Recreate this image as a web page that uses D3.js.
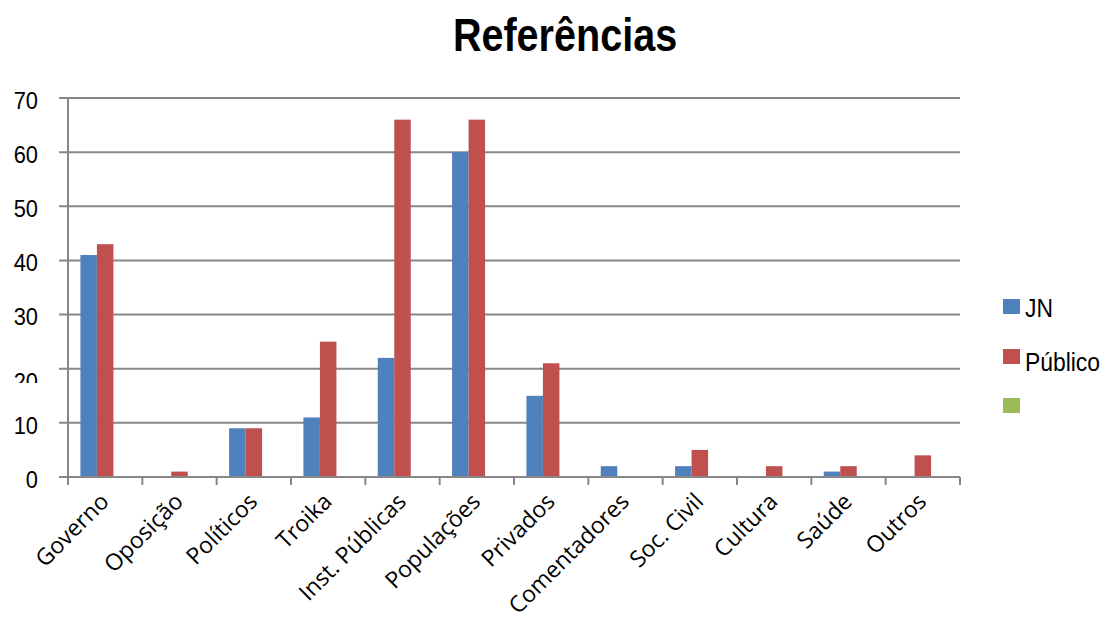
<!DOCTYPE html>
<html><head><meta charset="utf-8">
<script src="https://cdn.jsdelivr.net/npm/d3@7"></script>
<style>body{margin:0;background:#fff}svg{display:block}</style>
</head><body>
<svg id="c" width="1105" height="622"></svg>
<script>
const categories = ["Governo","Oposição","Políticos","Troika","Inst. Públicas","Populações","Privados","Comentadores","Soc. Civil","Cultura","Saúde","Outros"];
const seriesNames = ["JN","Público",""];
const jnValues = [41,0,9,11,22,60,15,2,2,0,1,0];
const publicoValues = [43,1,9,25,66,66,21,0,5,2,2,4];
const thirdValues = [0,0,0,0,0,0,0,0,0,0,0,0];
const yTicks = [0,10,20,30,40,50,60,70];
const colors = ["#4F81BD","#C0504D","#9BBB59"];
const title = "Referências";

(function(){
const series = [jnValues, publicoValues, thirdValues];
const svg = d3.select("#c");
const pL = 68, pR = 960, pT = 98, pB = 477;
const x0 = d3.scaleBand().domain(categories).range([pL, pR]).paddingInner(0.334).paddingOuter(0.167);
const x1 = d3.scaleBand().domain(d3.range(series.length)).range([0, x0.bandwidth()]);
const y = d3.scaleLinear().domain([0,70]).range([pB, pT]);
const grid = "#878787";

// gridlines
svg.append("g").selectAll("line").data(yTicks).join("line")
  .attr("x1", pL - 9).attr("x2", pR).attr("y1", d => y(d)).attr("y2", d => y(d))
  .attr("stroke", grid).attr("stroke-width", 2);
// left axis
svg.append("line").attr("x1", pL).attr("x2", pL).attr("y1", pT).attr("y2", pB + 8)
  .attr("stroke", grid).attr("stroke-width", 2);
// bottom ticks
const step = x0.step();
svg.append("g").selectAll("line").data(d3.range(categories.length + 1)).join("line")
  .attr("x1", i => pL + i * step).attr("x2", i => pL + i * step)
  .attr("y1", pB).attr("y2", pB + 8).attr("stroke", grid).attr("stroke-width", 2);

// bars
svg.append("g").selectAll("g").data(categories).join("g")
  .attr("transform", d => `translate(${x0(d)},0)`)
  .selectAll("rect").data((d, i) => series.map((s, k) => ({k, v: s[i]})).filter(e => e.v > 0)).join("rect")
  .attr("x", e => x1(e.k)).attr("width", x1.bandwidth())
  .attr("y", e => y(e.v)).attr("height", e => y(0) - y(e.v) - 1)
  .attr("fill", e => colors[e.k]);

// y labels
const defs = svg.append("defs");
defs.append("clipPath").attr("id", "clip20").append("rect").attr("x", 0).attr("y", 0).attr("width", 60).attr("height", 383);
svg.append("g").selectAll("g").data(yTicks).join("g")
  .attr("clip-path", d => d === 20 ? "url(#clip20)" : null)
  .append("text")
  .attr("transform", d => `translate(38,${d === 20 ? y(d) + 13 : y(d) + 2}) scale(0.95,1.08)`)
  .attr("dy", "0.35em").attr("text-anchor", "end")
  .style("font-family", "'Liberation Sans', Arial, sans-serif").style("font-size", "23px").attr("fill", "#000")
  .text(d => d);

// x labels
svg.append("g").selectAll("text").data(categories).join("text")
  .attr("transform", d => `translate(${x0(d) + x0.bandwidth()/2 + 5},${pB + 26}) rotate(-45)`)
  .attr("text-anchor", "end")
  .style("font-family", "'Open Sans', sans-serif").style("font-size", "23px").attr("fill", "#000")
  .text(d => d);

// title
svg.append("text").attr("transform", "translate(565,51) scale(0.86,1)")
  .attr("text-anchor", "middle")
  .style("font-family", "'Liberation Sans', Arial, sans-serif").style("font-size", "46px").style("font-weight", "bold")
  .text(title);

// legend
const legY = [299, 349, 398], legT = [317, 371, 420];
const lg = svg.append("g").selectAll("g").data(seriesNames).join("g");
lg.append("rect").attr("x", 1003).attr("y", (d, i) => legY[i]).attr("width", 17).attr("height", 15).attr("fill", (d, i) => colors[i]);
lg.append("text").attr("transform", (d, i) => `translate(1025,${legT[i]}) scale(0.88,1)`)
  .style("font-family", "'Liberation Sans', Arial, sans-serif").style("font-size", "26px")
  .text(d => d);
})();
</script>
</body></html>
